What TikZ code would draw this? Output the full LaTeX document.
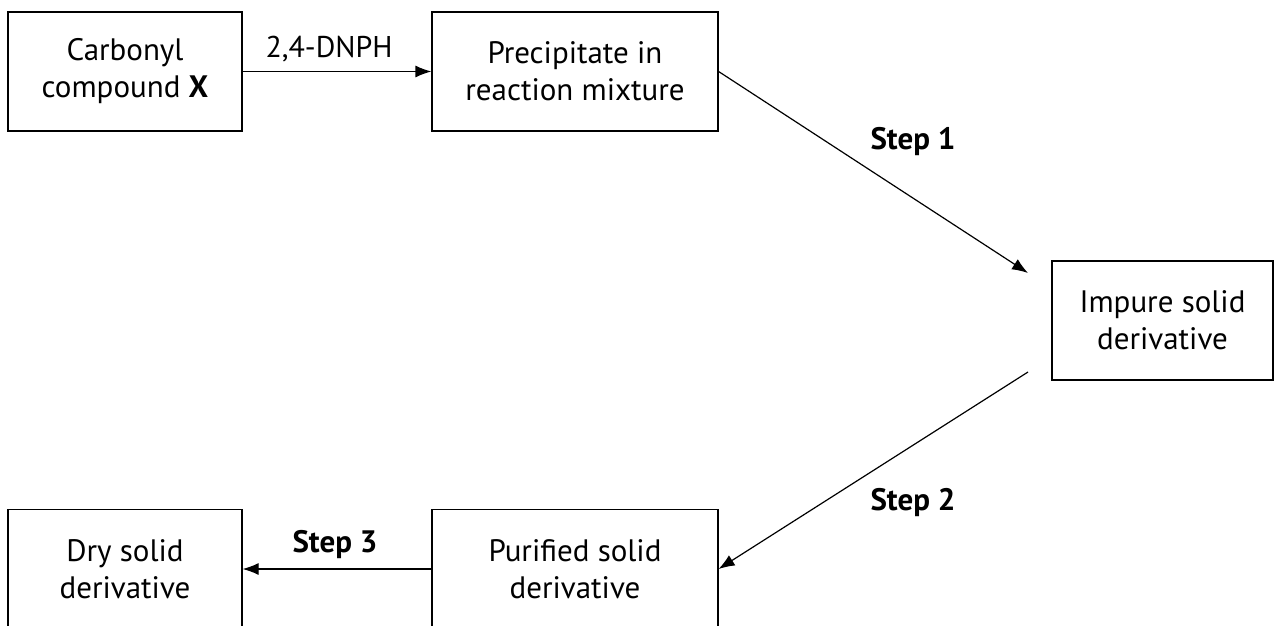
\documentclass[tikz,border=0pt]{standalone}
\usepackage{fontspec}
\setmainfont{PT Sans}
\usepackage{tikz}
\usetikzlibrary{arrows.meta}

\begin{document}
\begin{tikzpicture}[x=1pt,y=1pt,
  box/.style={draw,line width=1.2pt,minimum height=119pt,inner sep=0pt,align=center,font=\fontsize{31}{37}\selectfont},
  lbl/.style={anchor=base,font=\fontsize{30}{32}\selectfont},
  steplbl/.style={anchor=base,font=\bfseries\fontsize{31}{33}\selectfont},
  arr/.style={-{Latex[length=16pt,width=12pt]},line width=1.2pt}]
\useasboundingbox (0,0) rectangle (1274,625);

% boxes
\node[box,minimum width=234pt] (carbonyl) at (125,553.5) {Carbonyl\\compound \textbf{X}};
\node[box,minimum width=286pt] (precip) at (575,553.5) {Precipitate in\\reaction mixture};
\node[box,minimum width=221pt] (impure) at (1162.5,304.5) {Impure solid\\derivative};
\node[box,minimum width=286pt] (purified) at (575,56) {Purified solid\\derivative};
\node[box,minimum width=234pt] (dry) at (125,56) {Dry solid\\derivative};

% free ends of the slanted arrows
\coordinate (inimpure) at (1028,352);
\coordinate (outimpure) at (1028,253);

\draw[arr] (carbonyl) -- (precip);
\draw[arr] (precip.east) -- (inimpure);
\draw[arr] (outimpure) -- (purified.east);
\draw[arr] (purified) -- (dry);

\node[lbl] (dnph) at (329,567) {2,4-DNPH};
\node[steplbl] (step1) at (913,475) {Step 1};
\node[steplbl] (step2) at (913,115) {Step 2};
\node[steplbl] (step3) at (335,73) {Step 3};

\end{tikzpicture}
\end{document}
